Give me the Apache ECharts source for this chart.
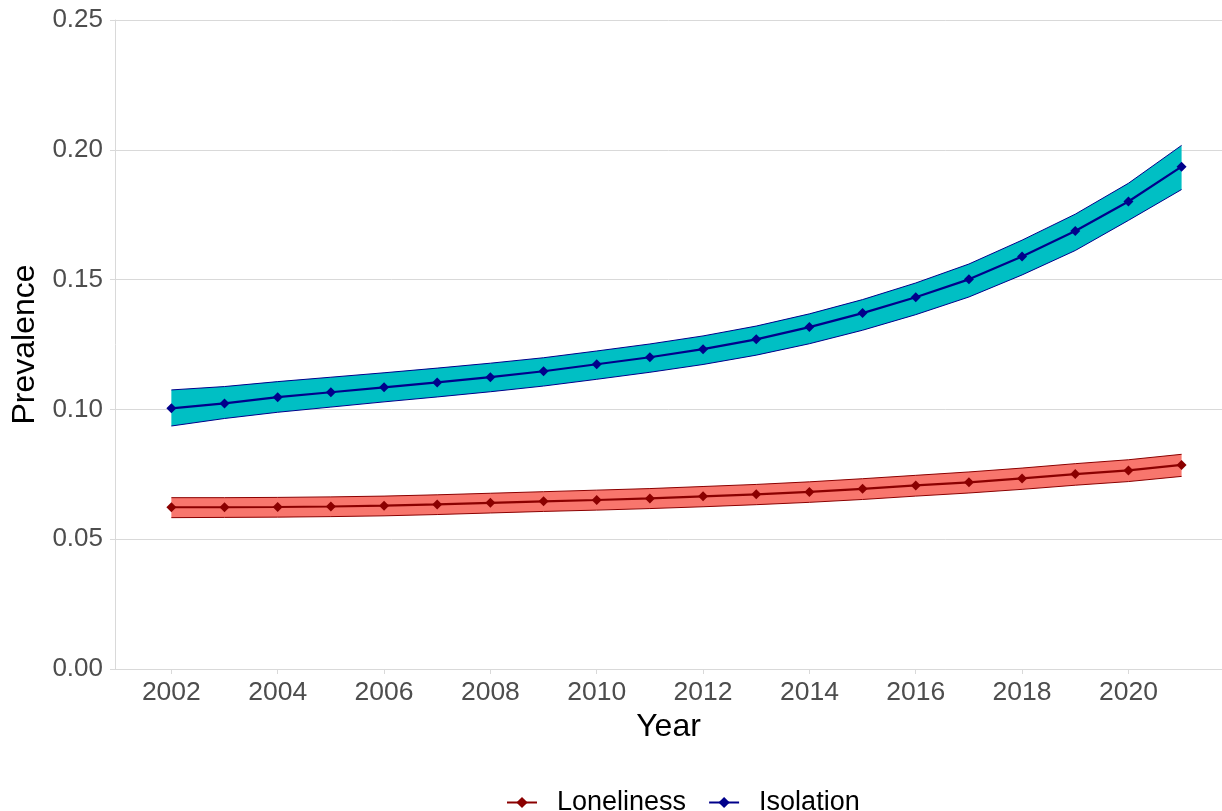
<!DOCTYPE html>
<html>
<head>
<meta charset="utf-8">
<script src="https://cdn.jsdelivr.net/npm/echarts@6/dist/echarts.min.js"></script>
<style>
  html, body { margin: 0; padding: 0; background: #ffffff; }
  #chart { width: 1222px; height: 811px; }
</style>
</head>
<body>
<div id="chart"></div>
<script>
// Survey years
const years = [2002, 2003, 2004, 2005, 2006, 2007, 2008, 2009, 2010, 2011,
               2012, 2013, 2014, 2015, 2016, 2017, 2018, 2019, 2020, 2021];

// Loneliness prevalence estimate with its confidence bounds
const lonelinessMean  = [0.0623, 0.0623, 0.0624, 0.0626, 0.0629, 0.0634, 0.0640, 0.0646, 0.0651, 0.0657,
                         0.0665, 0.0673, 0.0682, 0.0694, 0.0707, 0.0719, 0.0734, 0.0751, 0.0765, 0.0786];
const lonelinessUpper = [0.0660, 0.0660, 0.0661, 0.0663, 0.0666, 0.0671, 0.0677, 0.0683, 0.0689, 0.0695,
                         0.0703, 0.0711, 0.0721, 0.0733, 0.0746, 0.0759, 0.0774, 0.0791, 0.0806, 0.0827];
const lonelinessLower = [0.0583, 0.0584, 0.0585, 0.0587, 0.0590, 0.0595, 0.0601, 0.0607, 0.0612, 0.0618,
                         0.0625, 0.0633, 0.0642, 0.0653, 0.0666, 0.0678, 0.0692, 0.0708, 0.0722, 0.0742];

// Isolation prevalence estimate with its confidence bounds
const isolationMean  = [0.1004, 0.1023, 0.1047, 0.1066, 0.1085, 0.1104, 0.1124, 0.1147, 0.1174, 0.1201,
                        0.1232, 0.1270, 0.1317, 0.1371, 0.1432, 0.1501, 0.1589, 0.1687, 0.1801, 0.1935];
const isolationUpper = [0.1075, 0.1088, 0.1107, 0.1124, 0.1141, 0.1159, 0.1178, 0.1199, 0.1225, 0.1252,
                        0.1283, 0.1321, 0.1368, 0.1423, 0.1487, 0.1560, 0.1652, 0.1752, 0.1871, 0.2017];
const isolationLower = [0.0936, 0.0965, 0.0989, 0.1009, 0.1029, 0.1048, 0.1068, 0.1090, 0.1116, 0.1143,
                        0.1173, 0.1209, 0.1253, 0.1305, 0.1365, 0.1433, 0.1518, 0.1612, 0.1728, 0.1847];

const xTicks = [2002, 2004, 2006, 2008, 2010, 2012, 2014, 2016, 2018, 2020];

const FONT = 'Liberation Sans, Arial, sans-serif';
const GRID_COLOR = '#d9d9d9';
const LABEL_COLOR = '#4d4d4d';

const pairs = (ys) => years.map((x, i) => [x, ys[i]]);

// A confidence ribbon drawn as one filled polygon plus thin edge lines,
// positioned through the chart's own coordinate system.
function ribbon(id, lower, upper, fill, edge) {
  return {
    name: id, type: 'custom', z: 1, silent: true,
    data: years.map((x, i) => [x, lower[i], upper[i]]),
    encode: { x: 0, y: [1, 2] },
    renderItem: function (params, api) {
      if (params.dataIndex !== 0) return null;
      const top = years.map((x, i) => api.coord([x, upper[i]]));
      const bottom = years.map((x, i) => api.coord([x, lower[i]]));
      const poly = top.concat(bottom.slice().reverse());
      return {
        type: 'group',
        children: [
          { type: 'polygon', shape: { points: poly }, style: { fill: fill, stroke: null } },
          { type: 'polyline', shape: { points: top }, style: { fill: null, stroke: edge, lineWidth: 1 } },
          { type: 'polyline', shape: { points: bottom }, style: { fill: null, stroke: edge, lineWidth: 1 } }
        ]
      };
    }
  };
}

function estimate(name, values, color) {
  return {
    name: name, type: 'line', data: pairs(values), z: 3,
    symbol: 'diamond', symbolSize: 10,
    itemStyle: { color: color },
    lineStyle: { color: color, width: 2.2 }
  };
}

const chart = echarts.init(document.getElementById('chart'), null, { renderer: 'canvas' });

chart.setOption({
  animation: false,
  backgroundColor: '#ffffff',
  textStyle: { fontFamily: FONT },
  grid: { left: 115, right: 0, top: 20, bottom: 142, containLabel: false },
  legend: {
    data: ['Loneliness', 'Isolation'],
    top: 784, left: 501,
    itemWidth: 30, itemHeight: 14, itemGap: 22,
    textStyle: { fontSize: 27, color: '#000000', fontFamily: FONT, padding: [0, 0, 0, 15] }
  },
  xAxis: {
    type: 'value', min: 2000.94, max: 2021.76,
    name: 'Year', nameLocation: 'middle', nameGap: 42,
    nameTextStyle: { fontSize: 32, color: '#000000', fontFamily: FONT },
    axisLine: { show: true, lineStyle: { color: GRID_COLOR, width: 1 } },
    axisTick: { show: true, length: 5, lineStyle: { color: GRID_COLOR }, customValues: xTicks },
    axisLabel: { fontSize: 26.5, color: LABEL_COLOR, margin: 10, customValues: xTicks, formatter: (v) => String(v) },
    splitLine: { show: false }
  },
  yAxis: {
    type: 'value', min: 0, max: 0.25, interval: 0.05,
    name: 'Prevalence', nameLocation: 'middle', nameGap: 67, nameRotate: 90,
    nameTextStyle: { fontSize: 32, color: '#000000', fontFamily: FONT },
    axisLine: { show: true, lineStyle: { color: GRID_COLOR, width: 1 } },
    axisTick: { show: true, length: 5, lineStyle: { color: GRID_COLOR } },
    axisLabel: { fontSize: 26, color: LABEL_COLOR, margin: 12, formatter: (v) => v.toFixed(2) },
    splitLine: { show: true, lineStyle: { color: GRID_COLOR, width: 1 } }
  },
  series: [
    ribbon('iso', isolationLower, isolationUpper, '#00BFC4', '#00008B'),
    ribbon('lon', lonelinessLower, lonelinessUpper, '#F8766D', '#8B0000'),
    estimate('Loneliness', lonelinessMean, '#8B0000'),
    estimate('Isolation', isolationMean, '#00008B')
  ]
});
</script>
</body>
</html>
